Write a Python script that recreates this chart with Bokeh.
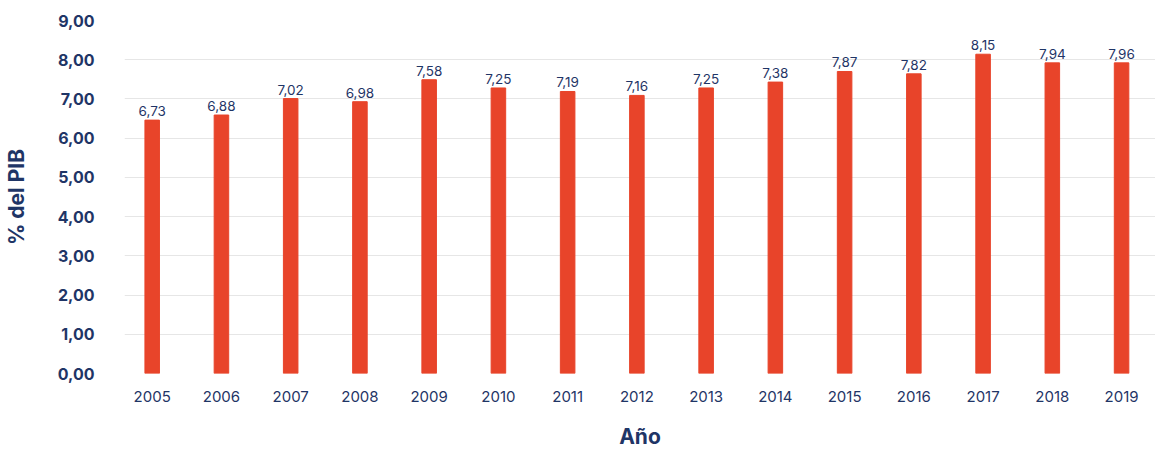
from bokeh.plotting import figure
from bokeh.models import ColumnDataSource, FixedTicker, Range1d
from bokeh.embed import file_html
from bokeh.resources import INLINE
from bokeh.core.properties import value

years = ["2005", "2006", "2007", "2008", "2009", "2010", "2011", "2012",
         "2013", "2014", "2015", "2016", "2017", "2018", "2019"]
bar_values = [6.46, 6.59, 7.01, 6.93, 7.49, 7.28, 7.19, 7.09,
              7.28, 7.43, 7.70, 7.64, 8.14, 7.92, 7.92]
value_labels = ["6,73", "6,88", "7,02", "6,98", "7,58", "7,25", "7,19", "7,16",
                "7,25", "7,38", "7,87", "7,82", "8,15", "7,94", "7,96"]
y_ticks = [0, 1, 2, 3, 4, 5, 6, 7, 8, 9]
y_tick_labels = ["0,00", "1,00", "2,00", "3,00", "4,00", "5,00", "6,00", "7,00", "8,00", "9,00"]

NAVY = "#1f3566"
RED = "#e8442a"
FONT = "Inter"

xs = list(range(len(years)))
src = ColumnDataSource(dict(x=xs, top=bar_values, lab=value_labels))

p = figure(width=1155, height=451, output_backend="svg", toolbar_location=None,
           x_range=Range1d(-0.40, 14.49), y_range=Range1d(0, 9),
           min_border_left=117, min_border_top=20, min_border_right=0,
           min_border_bottom=70)
p.outline_line_color = None
p.background_fill_color = "white"

p.vbar(x="x", top="top", width=0.21, source=src, color=RED)
p.text(x="x", y="top", text="lab", source=src, text_align="center",
       text_baseline="bottom", y_offset=-4, text_font=value(FONT),
       text_font_size="13.5px", text_color=NAVY)

p.xgrid.visible = False
p.ygrid.grid_line_color = "#e6e6e6"
p.ygrid.grid_line_width = 1

p.xaxis.ticker = FixedTicker(ticks=xs)
p.xaxis.major_label_overrides = {i: y for i, y in zip(xs, years)}
p.yaxis.ticker = FixedTicker(ticks=y_ticks)
p.yaxis.major_label_overrides = {t: l for t, l in zip(y_ticks, y_tick_labels)}

for ax in (p.xaxis, p.yaxis):
    ax.axis_line_color = None
    ax.major_tick_line_color = None
    ax.minor_tick_line_color = None
    ax.major_label_text_font = FONT
    ax.major_label_text_color = NAVY
    ax.major_label_text_font_size = "15px"
    ax.axis_label_text_font = FONT
    ax.axis_label_text_color = NAVY
    ax.axis_label_text_font_style = "bold"
    ax.axis_label_text_font_size = "21px"

p.yaxis.major_label_text_font_style = "bold"
p.yaxis.major_label_text_font_size = "16px"
p.xaxis.major_label_standoff = 11
p.yaxis.major_label_standoff = 24
p.xaxis.axis_label = "Año"
p.yaxis.axis_label = "% del PIB"
p.xaxis.axis_label_standoff = 19
p.yaxis.axis_label_standoff = 26

open("out.html", "w").write(file_html(p, INLINE))
